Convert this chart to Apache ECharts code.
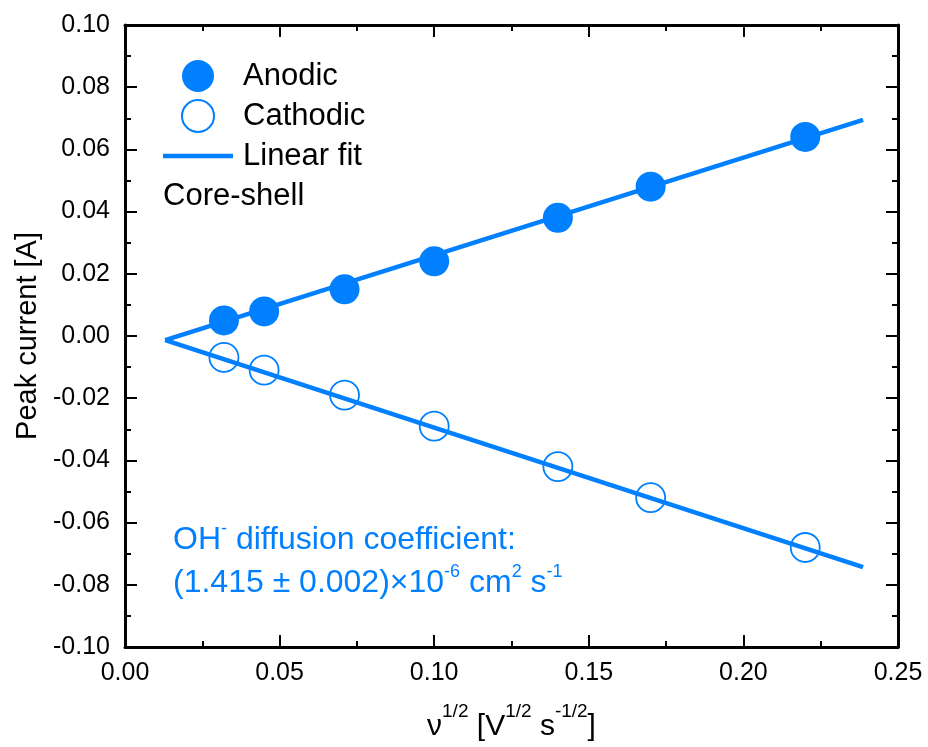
<!DOCTYPE html>
<html>
<head>
<meta charset="utf-8">
<script src="https://cdn.jsdelivr.net/npm/echarts@6/dist/echarts.min.js"></script>
<style>html,body{margin:0;padding:0;background:#fff}#c{width:928px;height:747px}</style>
</head>
<body>
<div id="c"></div>
<script>
const scanRate = [0.032, 0.045, 0.071, 0.10, 0.14, 0.17, 0.22];
const anodic = [0.005, 0.0079, 0.015, 0.024, 0.038, 0.048, 0.064];
const cathodic = [-0.0069, -0.011, -0.019, -0.029, -0.042, -0.052, -0.068];
const fitX = [0.013, 0.2387];
const anodicFit = [-0.0013, 0.0695];
const cathodicFit = [-0.0013, -0.0743];

const BLUE = '#0080ff';
const FONT = 'Liberation Sans, Arial, sans-serif';

const pairs = (xs, ys) => xs.map((x, i) => [x, ys[i]]);

const chart = echarts.init(document.getElementById('c'), null, {renderer: 'canvas'});

const axisCommon = {
  axisLine: {show: true, onZero: false, lineStyle: {color: '#000', width: 3}},
  axisTick: {show: true, inside: true, length: 12, lineStyle: {color: '#000', width: 2}},
  minorTick: {show: true, splitNumber: 2, length: 6, lineStyle: {color: '#000', width: 2}},
  splitLine: {show: false}
};

const lineIcon = 'path://M0,0L0.01,0L0.01,0.01L0,0.01Z M0,13.7L70,13.7L70,18.3L0,18.3Z M0,31.99L0.01,31.99L0.01,32L0,32Z';

chart.setOption({
  animation: false,
  backgroundColor: '#fff',
  grid: {left: 125, right: 30, top: 25, bottom: 99},
  textStyle: {fontFamily: FONT},
  legend: {
    orient: 'vertical',
    left: 163,
    top: 60,
    padding: 0,
    itemWidth: 70,
    itemHeight: 32,
    itemGap: 7,
    data: [
      {name: 'Anodic'},
      {name: 'Cathodic'},
      {name: 'Linear fit', icon: lineIcon, itemStyle: {color: BLUE}}
    ],
    textStyle: {fontSize: 31, color: '#000', fontFamily: FONT, padding: [0, 0, 0, 5]},
    selectedMode: false
  },
  xAxis: [
    Object.assign({
      type: 'value', position: 'bottom', min: 0, max: 0.25, interval: 0.05,
      axisLabel: {fontSize: 25, color: '#000', margin: 14, fontFamily: FONT,
        formatter: v => v.toFixed(2)},
      name: '{n|ν}{s|1/2}{n| [V}{s|1/2}{n| s}{s|-1/2}{n|]}',
      nameLocation: 'middle', nameGap: 55,
      nameTextStyle: {
        rich: {
          n: {fontSize: 30, lineHeight: 40, color: '#000', fontFamily: FONT, verticalAlign: 'bottom'},
          s: {fontSize: 19, lineHeight: 20, color: '#000', fontFamily: FONT, verticalAlign: 'top'}
        }
      }
    }, axisCommon),
    Object.assign({
      type: 'value', position: 'top', min: 0, max: 0.25, interval: 0.05,
      axisLabel: {show: false}
    }, axisCommon)
  ],
  yAxis: [
    Object.assign({
      type: 'value', position: 'left', min: -0.1, max: 0.1, interval: 0.02,
      axisLabel: {fontSize: 25, color: '#000', margin: 15, fontFamily: FONT,
        formatter: v => v.toFixed(2)},
      name: 'Peak current [A]', nameLocation: 'middle', nameGap: 82, nameRotate: 90,
      nameTextStyle: {fontSize: 29, color: '#000', fontFamily: FONT}
    }, axisCommon),
    Object.assign({
      type: 'value', position: 'right', min: -0.1, max: 0.1, interval: 0.02,
      axisLabel: {show: false}
    }, axisCommon)
  ],
  series: [
    {
      name: 'Linear fit', type: 'line', data: pairs(fitX, anodicFit),
      symbol: 'none', lineStyle: {color: BLUE, width: 4.5}, itemStyle: {color: BLUE}, z: 2
    },
    {
      name: 'Linear fit', type: 'line', data: pairs(fitX, cathodicFit),
      symbol: 'none', lineStyle: {color: BLUE, width: 4.5}, itemStyle: {color: BLUE}, z: 2
    },
    {
      name: 'Anodic', type: 'scatter', data: pairs(scanRate, anodic),
      symbol: 'circle', symbolSize: 30, itemStyle: {color: BLUE, opacity: 1}, z: 3
    },
    {
      name: 'Cathodic', type: 'scatter', data: pairs(scanRate, cathodic),
      symbol: 'circle', symbolSize: 29,
      itemStyle: {color: 'rgba(255,255,255,0)', borderColor: BLUE, borderWidth: 1.8, opacity: 1}, z: 3
    }
  ],
  graphic: [
    {
      type: 'text', left: 163, top: 181,
      style: {text: 'Core-shell', fontSize: 31, fill: '#000', fontFamily: FONT}
    },
    {
      type: 'text', left: 173, top: 520,
      style: {
        text: '{n|OH}{s|-}{n| diffusion coefficient:}',
        rich: {
          n: {fontSize: 32, lineHeight: 36, fill: BLUE, fontFamily: FONT, verticalAlign: 'bottom'},
          s: {fontSize: 18, lineHeight: 20, fill: BLUE, fontFamily: FONT, verticalAlign: 'top'}
        }
      }
    },
    {
      type: 'text', left: 173, top: 563,
      style: {
        text: '{n|(1.415 ± 0.002)×10}{s|-6}{n| cm}{s|2}{n| s}{s|-1}',
        rich: {
          n: {fontSize: 32, lineHeight: 36, fill: BLUE, fontFamily: FONT, verticalAlign: 'bottom'},
          s: {fontSize: 18, lineHeight: 20, fill: BLUE, fontFamily: FONT, verticalAlign: 'top'}
        }
      }
    }
  ]
});
</script>
</body>
</html>
